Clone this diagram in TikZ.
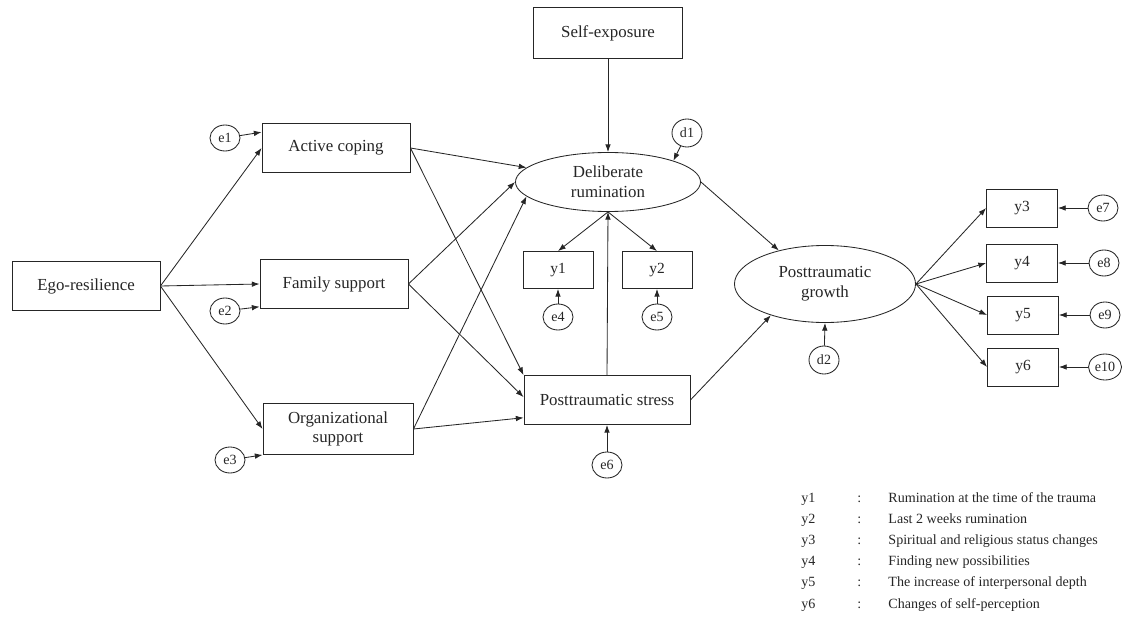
\documentclass[tikz,border=0pt]{standalone}
\usepackage{fontspec}
\setmainfont{Liberation Serif}
\usetikzlibrary{shapes.geometric,arrows.meta}

\tikzset{
  varbox/.style={draw,rectangle,minimum width=3.7cm,minimum height=1.225cm,align=center,inner sep=1pt,font=\fontsize{12}{14}\selectfont},
  latent/.style={draw,ellipse,inner sep=0pt,align=center,font=\fontsize{12}{14}\selectfont},
  indbox/.style={draw,rectangle,minimum width=1.775cm,minimum height=0.95cm,inner sep=1pt,font=\fontsize{11}{12}\selectfont},
  errnode/.style={draw,ellipse,minimum width=0.75cm,minimum height=0.65cm,inner sep=0pt,font=\fontsize{10}{11}\selectfont},
  arr/.style={-{Latex[length=5.5pt,width=4pt]}},
  legend/.style={anchor=base west,inner sep=0pt,font=\fontsize{10}{12}\selectfont}
}

\begin{document}
\begin{tikzpicture}[x=0.025cm,y=-0.025cm,line width=0.6pt,color=black!85]
      \useasboundingbox (0,0) rectangle (1124,617);
      \node[varbox] (ego) at (86,286) {Ego-resilience};
      \node[varbox] (active) at (336,148) {Active coping};
      \node[varbox] (family) at (334,284) {Family support};
      \node[varbox,minimum width=3.75cm,minimum height=1.275cm] (org) at (338,429) {Organizational\\support};
      \node[varbox,minimum width=3.725cm,minimum height=1.275cm] (selfexp) at (608,33) {Self-exposure};
      \node[varbox,minimum width=4.15cm] (stress) at (607,400) {Posttraumatic stress};
      \node[latent,minimum width=4.625cm,minimum height=1.475cm] (delib) at (608,182) {Deliberate\\rumination};
      \node[latent,minimum width=4.525cm,minimum height=1.925cm] (growth) at (825,284) {Posttraumatic\\growth};
      \node[indbox,minimum width=1.75cm,minimum height=0.925cm] (y1) at (558,270) {y1};
      \node[indbox,minimum width=1.75cm,minimum height=0.925cm] (y2) at (657,270) {y2};
      \node[indbox] (y3) at (1022,208) {y3};
      \node[indbox] (y4) at (1022,263) {y4};
      \node[indbox] (y5) at (1023,315) {y5};
      \node[indbox] (y6) at (1023,367) {y6};
      \node[errnode] (e1) at (225,138) {e1};
      \node[errnode] (e2) at (225,311) {e2};
      \node[errnode] (e3) at (230,460) {e3};
      \node[errnode] (e4) at (558,317) {e4};
      \node[errnode] (e5) at (657,317) {e5};
      \node[errnode] (e6) at (607,465) {e6};
      \node[errnode] (e7) at (1103,208) {e7};
      \node[errnode] (e8) at (1104,263) {e8};
      \node[errnode] (e9) at (1105,315) {e9};
      \node[errnode,minimum width=0.825cm] (e10) at (1105,367) {e10};
      \node[errnode,minimum height=0.7cm] (d1) at (687,133) {d1};
      \node[errnode,minimum height=0.7cm] (d2) at (824,360) {d2};

      \draw[arr] (ego.east) -- (active.west);
      \draw[arr] (ego.east) -- (family.west);
      \draw[arr] (ego.east) -- (org.west);
      \draw[arr] (e1) -- (active.168);
      \draw[arr] (e2) -- (family.197);
      \draw[arr] (e3) -- (org.south west);
      \draw[arr] (active.east) -- (delib.170);
      \draw[arr] (active.east) -- (stress.north west);
      \draw[arr] (family.east) -- (delib.west);
      \draw[arr] (family.east) -- (stress.178);
      \draw[arr] (org.east) -- (delib.190);
      \draw[arr] (org.east) -- (stress.192);
      \draw[arr] (selfexp.south) -- (delib.north);
      \draw[arr] (d1) -- (delib.18);
      \draw[arr] (delib.south) -- (y1.north);
      \draw[arr] (delib.south) -- (y2.north);
      \draw[arr] (e4) -- (y1.south);
      \draw[arr] (e5) -- (y2.south);
      \draw[arr] (stress.north) -- (delib.south);
      \draw[arr] (e6) -- (stress.south);
      \draw[arr] (delib.east) -- (growth.144);
      \draw[arr] (stress.east) -- (growth.210);
      \draw[arr] (d2) -- (growth.south);
      \draw[arr] (growth.east) -- (y3.west);
      \draw[arr] (growth.east) -- (y4.west);
      \draw[arr] (growth.east) -- (y5.west);
      \draw[arr] (growth.east) -- (y6.west);
      \draw[arr] (e7) -- (y3.east);
      \draw[arr] (e8) -- (y4.east);
      \draw[arr] (e9) -- (y5.east);
      \draw[arr] (e10) -- (y6.east);

      \node[legend] (ly1) at (801,502) {y1};
      \node[legend] (cy1) at (857,502) {:};
      \node[legend] (ty1) at (888,502) {Rumination at the time of the trauma};
      \node[legend] (ly2) at (801,523.2) {y2};
      \node[legend] (cy2) at (857,523.2) {:};
      \node[legend] (ty2) at (888,523.2) {Last 2 weeks rumination};
      \node[legend] (ly3) at (801,544.4) {y3};
      \node[legend] (cy3) at (857,544.4) {:};
      \node[legend] (ty3) at (888,544.4) {Spiritual and religious status changes};
      \node[legend] (ly4) at (801,565.6) {y4};
      \node[legend] (cy4) at (857,565.6) {:};
      \node[legend] (ty4) at (888,565.6) {Finding new possibilities};
      \node[legend] (ly5) at (801,586.8) {y5};
      \node[legend] (cy5) at (857,586.8) {:};
      \node[legend] (ty5) at (888,586.8) {The increase of interpersonal depth};
      \node[legend] (ly6) at (801,608) {y6};
      \node[legend] (cy6) at (857,608) {:};
      \node[legend] (ty6) at (888,608) {Changes of self-perception};
    \end{tikzpicture}
\end{document}
